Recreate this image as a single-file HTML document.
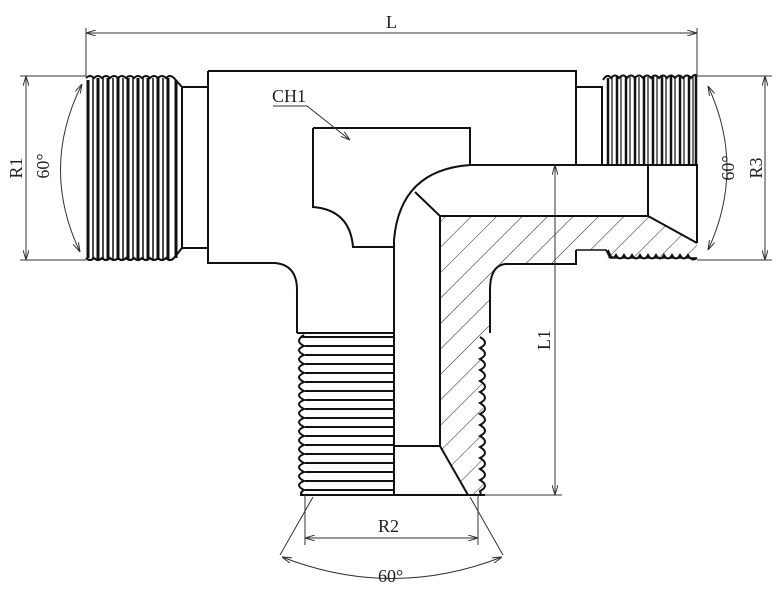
<!DOCTYPE html>
<html><head><meta charset="utf-8"><style>
html,body{margin:0;padding:0;background:#fff;width:778px;height:589px;overflow:hidden}
svg{display:block}
text{font-family:"Liberation Serif","Times New Roman",serif;fill:#222}
</style></head><body>
<svg width="778" height="589" viewBox="0 0 778 589" xmlns="http://www.w3.org/2000/svg">
<defs>
<pattern id="h" width="18" height="18" patternUnits="userSpaceOnUse" patternTransform="rotate(45)">
<line x1="0" y1="0" x2="0" y2="18" stroke="#222" stroke-width="1"/>
</pattern>
<marker id="a" markerWidth="10" markerHeight="6" refX="10" refY="3" orient="auto"><path d="M0,0 L10,3 L0,6" fill="none" stroke="#333" stroke-width="1"/></marker>
<marker id="b" markerWidth="10" markerHeight="6" refX="0" refY="3" orient="auto"><path d="M10,0 L0,3 L10,6" fill="none" stroke="#333" stroke-width="1"/></marker>
</defs>
<g fill="none" stroke="#111" stroke-width="2">
<path d="M440,216 L648,216 L697,243 L697,258 L607,258 L606,250 L576,250 L576,264 L505,264 Q490,266 490,290 L490,333 L483,333 L483,495 L468,495 L440,446 Z" fill="url(#h)" stroke="none"/>
<path d="M208,71 L576,71 L576,165"/>
<path d="M208,71 L208,263 L275,263 Q297,265 297,290 L297,333"/>
<path d="M182,87 L208,87 M182,248 L208,248 M182,87 L182,248"/>
<path d="M576,87 L602,87 L602,165"/>
<path d="M313,128 L470,128 L470,165 M313,128 L313,207 Q350,210 353,247 L395,247"/>
<path d="M470,165 L697,165 L697,243 M648,165 L648,216 M440,216 L648,216 L697,243"/>
<path d="M470,165 Q400,170 394,240 L394,495 M415,192 L440,216 L440,446 L395,446 M440,446 L468,495"/>
<path d="M576,250 L576,264 L505,264 Q490,266 490,290 L490,333"/>
<path d="M297,333 L395,333 M300,495 L485,495"/>
<path d="M576,250 L606,250 L610,258 L697,258" stroke-width="1.5"/>
</g>
<g stroke="#111" stroke-width="3">
<path d="M88,80 L88,258 M98,78 L98,260 M108,78 L108,260 M118,78 L118,260 M128,78 L128,260 M138,78 L138,260 M148,78 L148,260 M158,78 L158,260 M168,78 L168,260 M176,80 L176,258" />
<path d="M93,78 L93,260 M103,78 L103,260 M113,78 L113,260 M123,78 L123,260 M133,78 L133,260 M143,78 L143,260 M153,78 L153,260 M163,78 L163,260" stroke-width="1.5"/>
<path d="M86,78 Q90,74 94,78 Q98,74 102,78 Q106,74 110,78 Q114,74 118,78 Q122,74 126,78 Q130,74 134,78 Q138,74 142,78 Q146,74 150,78 Q154,74 158,78 Q162,74 166,78 Q170,74 174,78 L182,87" fill="none" stroke-width="2"/>
<path d="M86,258 Q90,262 94,258 Q98,262 102,258 Q106,262 110,258 Q114,262 118,258 Q122,262 126,258 Q130,262 134,258 Q138,262 142,258 Q146,262 150,258 Q154,262 158,258 Q162,262 166,258 Q170,262 174,258 L182,248" fill="none" stroke-width="2"/>
</g>
<g stroke="#111" stroke-width="2.5">
<path d="M608,78 L608,165 M617,76 L617,165 M626,76 L626,165 M635,76 L635,165 M644,76 L644,165 M653,76 L653,165 M662,76 L662,165 M671,76 L671,165 M680,76 L680,165 M689,76 L689,165 M696,76 L696,165"/>
<path d="M612,77 L612,165 M621,77 L621,165 M630,77 L630,165 M639,77 L639,165 M648,77 L648,165 M657,77 L657,165 M666,77 L666,165 M675,77 L675,165 M684,77 L684,165 M693,77 L693,165" stroke-width="1.2"/>
<path d="M603,80 Q607,73 611,78 Q615,73 619,78 Q623,73 627,78 Q631,73 635,78 Q639,73 643,78 Q647,73 651,78 Q655,73 659,78 Q663,73 667,78 Q671,73 675,78 Q679,73 683,78 Q687,73 691,78 Q695,73 697,76" fill="none" stroke-width="2"/>
<path d="M608,250 Q612,262 616,255 Q620,262 624,255 Q628,262 632,255 Q636,262 640,255 Q644,262 648,255 Q652,262 656,255 Q660,262 664,255 Q668,262 672,255 Q676,262 680,255 Q684,262 688,255 Q692,262 697,258" fill="none" stroke-width="2"/>
</g>
<g stroke="#111" stroke-width="2" fill="none">
<path d="M302,337 L395,337 M305,346 L395,346 M305,355 L395,355 M305,364 L395,364 M305,373 L395,373 M305,382 L395,382 M305,391 L395,391 M305,400 L395,400 M305,409 L395,409 M305,418 L395,418 M305,427 L395,427 M305,436 L395,436 M305,445 L395,445 M305,454 L395,454 M305,463 L395,463 M305,472 L395,472 M305,481 L395,481 M305,490 L395,490"/>
<path d="M304,335 Q294,341 304,346 Q294,350 304,355 Q294,359 304,364 Q294,368 304,373 Q294,377 304,382 Q294,386 304,391 Q294,395 304,400 Q294,404 304,409 Q294,413 304,418 Q294,422 304,427 Q294,431 304,436 Q294,440 304,445 Q294,449 304,454 Q294,458 304,463 Q294,467 304,472 Q294,476 304,481 Q294,485 304,490 Q298,494 304,495"/>
<path d="M480,337 Q490,343 480,348 Q490,354 480,359 Q490,365 480,370 Q490,376 480,381 Q490,387 480,392 Q490,398 480,403 Q490,409 480,414 Q490,420 480,425 Q490,431 480,436 Q490,442 480,447 Q490,453 480,458 Q490,464 480,469 Q490,475 480,480 Q490,486 480,491 L481,495" />
</g>
<g stroke="#333" stroke-width="1" fill="none">
<path d="M86,76 L86,28 M697,76 L697,28"/>
<path d="M86,33 L697,33" marker-start="url(#b)" marker-end="url(#a)"/>
<path d="M20,76 L86,76 M20,260 L86,260"/>
<path d="M26,76 L26,260" marker-start="url(#b)" marker-end="url(#a)"/>
<path d="M82,84 Q40,168 80,252" marker-start="url(#b)" marker-end="url(#a)"/>
<path d="M697,76 L772,76 M697,260 L772,260"/>
<path d="M765,76 L765,260" marker-start="url(#b)" marker-end="url(#a)"/>
<path d="M708,86 Q746,168 708,250" marker-start="url(#b)" marker-end="url(#a)"/>
<path d="M555,165 L555,495" marker-start="url(#b)" marker-end="url(#a)"/>
<path d="M485,495 L562,495"/>
<path d="M305,495 L305,545 M478,495 L478,545"/>
<path d="M305,538 L478,538" marker-start="url(#b)" marker-end="url(#a)"/>
<path d="M313,497 L280,555 M470,497 L503,555"/>
<path d="M282,557 Q392,600 502,557" marker-start="url(#b)" marker-end="url(#a)"/>
<path d="M273,106 L307,106 L350,140" marker-end="url(#a)"/>
</g>
<g font-size="18">
<text x="386" y="28">L</text>
<text x="272" y="102">CH1</text>
<text x="378" y="532">R2</text>
<text x="378" y="582">60°</text>
<text transform="translate(22,168) rotate(-90)" text-anchor="middle">R1</text>
<text transform="translate(49,166) rotate(-90)" text-anchor="middle">60°</text>
<text transform="translate(762,168) rotate(-90)" text-anchor="middle">R3</text>
<text transform="translate(734,168) rotate(-90)" text-anchor="middle">60°</text>
<text transform="translate(550,340) rotate(-90)" text-anchor="middle">L1</text>
</g>
</svg>
</body></html>
